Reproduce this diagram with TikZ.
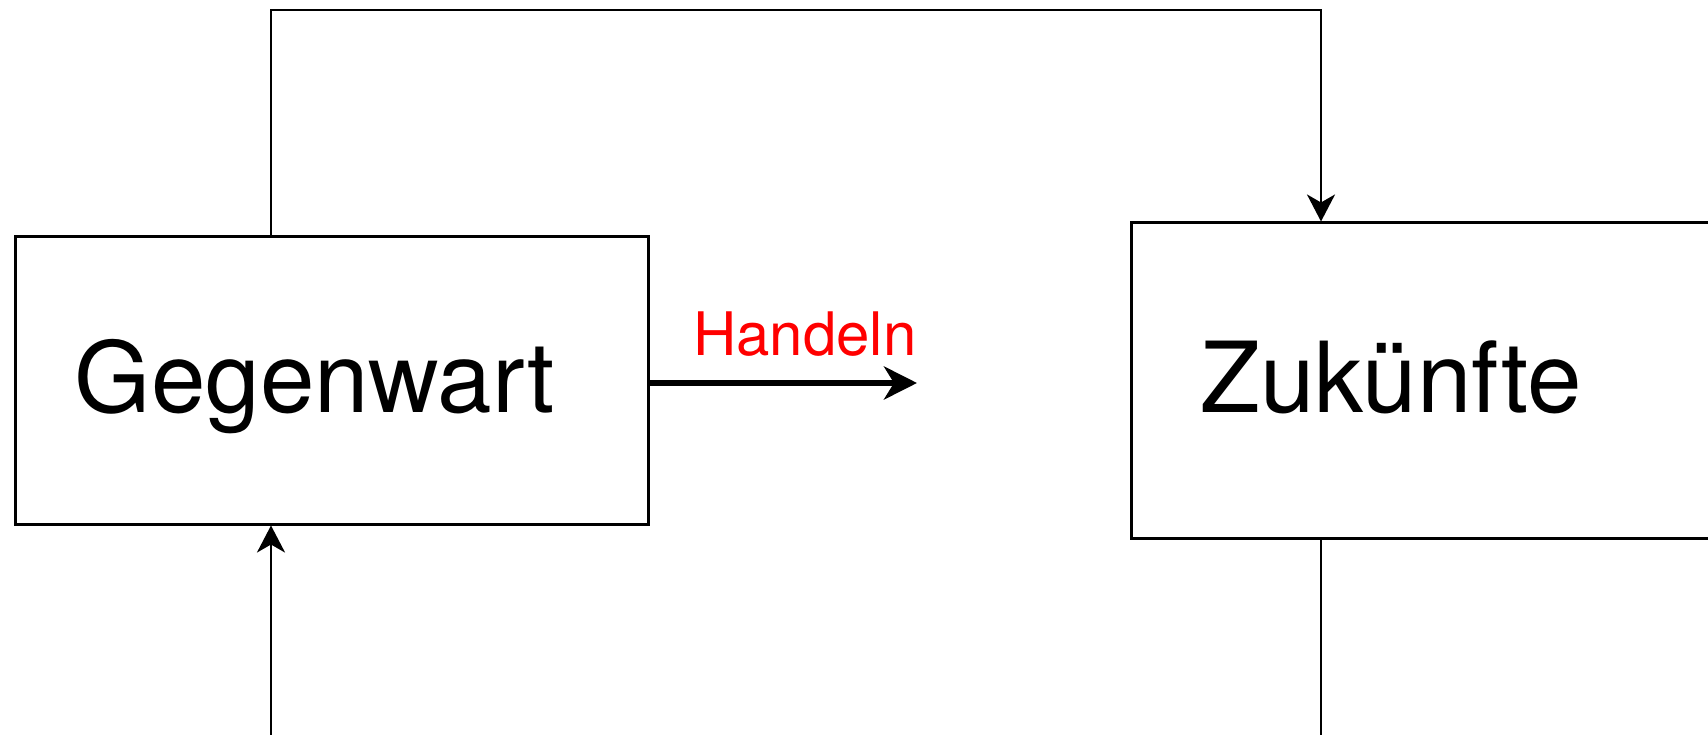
\documentclass[tikz,border=0pt]{standalone}
\usepackage{fontspec}
\setmainfont{TeX Gyre Heros}
\usetikzlibrary{arrows.meta,calc}
\begin{document}
\begin{tikzpicture}[x=1pt,y=-1pt,
  boxnode/.style={draw=black,line width=3pt,rectangle,inner sep=0pt,text height=63pt,text depth=0pt,font=\fontsize{98}{110}\selectfont},
  conn/.style={draw=black,line width=2.8pt},
  thinhead/.style={-{Stealth[length=27pt,width=28pt,inset=8pt]}},
  thickhead/.style={line width=6pt,-{Stealth[length=33pt,width=33pt,inset=10pt]}},
  lbl/.style={text=red,font=\fontsize{60}{70}\selectfont,inner sep=0pt}]
\useasboundingbox (0,0) rectangle (1708,735);
\fill[white] (0,0) rectangle (1708,735);
\node[boxnode,minimum width=633pt,minimum height=287pt] (G) at (331.5,380.5) {Gegenwart\kern33pt\relax};
\node[boxnode,minimum width=629pt,minimum height=315pt] (Z) at (1445.5,380.5) {Zukünfte\kern109pt\relax};
\coordinate (ga) at (271,10);
\coordinate (zb) at (1321,10);
\coordinate (gb) at (271,735);
\coordinate (zd) at (1321,735);
\coordinate (hend) at (917,383);
\draw[conn,thinhead] (ga |- G.north) -- (ga) -- (zb) -- (zb |- Z.north);
\draw[conn,thinhead] (gb) -- (gb |- G.south);
\draw[conn] (zd |- Z.south) -- (zd);
\draw[conn,thickhead] (G.east |- hend) -- (hend);
\node[lbl,anchor=base west] (hl) at (693,355) {Handeln};
\end{tikzpicture}
\end{document}
